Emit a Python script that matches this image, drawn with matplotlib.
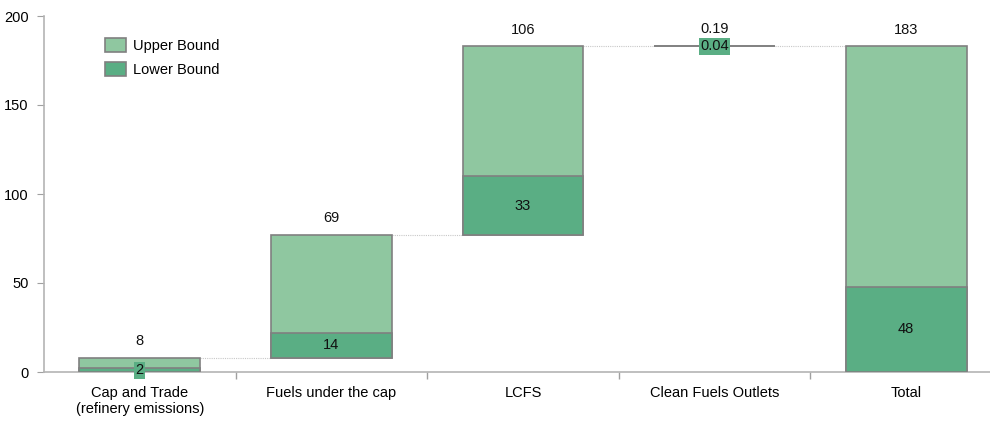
import matplotlib.pyplot as plt
import numpy as np

plt.rcParams['font.family'] = ['Liberation Sans', 'DejaVu Sans']

# --------------------------------
# Data
# --------------------------------

categories = ["Cap and Trade\n(refinery emissions)", "Fuels under the cap",
              "LCFS", "Clean Fuels Outlets", "Total"]
upper_labels = ["8", "69", "106", "0.19", "183"]
lower_labels = ["2", "14", "33", "0.04", "48"]
upper_vals = [8, 69, 106, 0.19, 183]
lower_vals = [2, 14, 33, 0.04, 48]

upper_color = "#8fc7a0"
lower_color = "#5aae84"
edge_color = "#808080"

# waterfall bases: each step starts where the previous one ended, total starts at 0
bases = []
running = 0
for i, v in enumerate(upper_vals):
    if i == len(upper_vals) - 1:
        bases.append(0)
    else:
        bases.append(running)
        running += v

x = np.arange(len(categories))
width = 0.63
fs = 10.5

fig = plt.figure(figsize=(9.9, 4.3), dpi=100)
ax = fig.add_axes([44 / 990, 58 / 430, 958 / 990, 356 / 430])

ax.bar(x, upper_vals, width, bottom=bases, color=upper_color,
       edgecolor=edge_color, linewidth=1.2, label="Upper Bound", zorder=2)
ax.bar(x, lower_vals, width, bottom=bases, color=lower_color,
       edgecolor=edge_color, linewidth=1.2, label="Lower Bound", zorder=3)

# value labels
for i in range(len(x)):
    top = bases[i] + upper_vals[i]
    ax.annotate(upper_labels[i], (x[i], top), xytext=(0, 7),
                textcoords="offset points", ha="center", va="bottom",
                fontsize=fs, color="#111111")
    ax.text(x[i], bases[i] + lower_vals[i] / 2, lower_labels[i],
            ha="center", va="center", fontsize=fs, color="#111111",
            bbox=dict(boxstyle="square,pad=0.1", fc=lower_color, ec="none"),
            zorder=4)

# dotted connectors between steps
for i in range(len(x) - 1):
    level = bases[i] + upper_vals[i]
    ax.plot([x[i] + width / 2, x[i + 1] - width / 2], [level, level],
            ls=(0, (1, 1)), color="#c8c8c8", lw=0.8, zorder=1)

ax.set_xlim(-0.5, len(x) - 0.5)
ax.set_ylim(0, 200)
ax.set_yticks([0, 50, 100, 150, 200])

ax.set_xticks(x)
ax.set_xticklabels(categories, fontsize=fs)
ax.set_xticks(np.arange(0.5, len(x) - 0.5, 1), minor=True)
ax.tick_params(axis="x", which="major", length=0, pad=10)
ax.tick_params(axis="x", which="minor", length=5, color="#a0a0a0", width=1)
ax.tick_params(axis="y", length=5, color="#a0a0a0", labelsize=fs, pad=6)

for side in ["top", "right"]:
    ax.spines[side].set_visible(False)
for side in ["left", "bottom"]:
    ax.spines[side].set_color("#b4b4b4")
    ax.spines[side].set_linewidth(1.2)

ax.legend(loc="upper left", bbox_to_anchor=(0.05, 0.975), frameon=False,
          fontsize=fs, handlelength=1.45, handleheight=1.1,
          labelspacing=0.6, handletextpad=0.5)

fig.savefig("out.png", dpi=100)
